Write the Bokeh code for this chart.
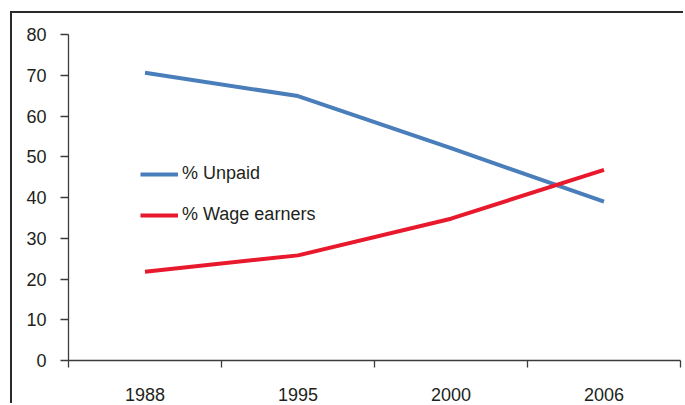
from bokeh.plotting import figure
from bokeh.models import (FactorRange, Range1d, LinearAxis, FixedTicker,
                          Legend, LegendItem)
from bokeh.embed import file_html
from bokeh.resources import INLINE

# ---- data ----
years = ["1988", "1995", "2000", "2006"]
unpaid = [70.6, 64.9, 52.1, 39.0]
wage_earners = [21.8, 25.8, 34.8, 46.8]
y_ticks = [0, 10, 20, 30, 40, 50, 60, 70, 80]
series_labels = ["% Unpaid", "% Wage earners"]

FONT = "Liberation Sans"
TXT = "#231f20"
AXC = "#3c3c3c"

p = figure(width=673, height=392,
           x_range=FactorRange(factors=years, range_padding=0),
           y_range=Range1d(0, 80),
           x_axis_type=None, y_axis_type=None,
           output_backend="svg", toolbar_location=None,
           min_border_left=56, min_border_right=5,
           min_border_top=21, min_border_bottom=45)
p.outline_line_color = None
p.styles = {"border-left": "2px solid #2a2a2a", "border-top": "2px solid #2a2a2a",
            "margin-left": "10px", "margin-top": "11px"}

yaxis = LinearAxis(ticker=FixedTicker(ticks=y_ticks, minor_ticks=[]),
                   major_tick_in=0, major_tick_out=8,
                   minor_tick_in=0, minor_tick_out=0,
                   axis_line_color=AXC, axis_line_width=1.3,
                   major_tick_line_color=AXC, major_tick_line_width=1.3,
                   major_label_text_font=FONT, major_label_text_font_size="18px",
                   major_label_text_color=TXT, major_label_standoff=14)
p.add_layout(yaxis, "left")

centers = [i + 0.5 for i in range(len(years))]
bounds = list(range(len(years) + 1))
xaxis = LinearAxis(ticker=FixedTicker(ticks=centers, minor_ticks=bounds),
                   major_label_overrides={c: y for c, y in zip(centers, years)},
                   major_tick_in=0, major_tick_out=0,
                   minor_tick_in=0, minor_tick_out=7,
                   axis_line_color=AXC, axis_line_width=1.3,
                   minor_tick_line_color=AXC, minor_tick_line_width=1.3,
                   major_label_text_font=FONT, major_label_text_font_size="18px",
                   major_label_text_color=TXT, major_label_standoff=20)
p.add_layout(xaxis, "below")

r1 = p.line(x=years, y=unpaid, line_color="#4a7ebb", line_width=4, line_join="round")
r2 = p.line(x=years, y=wage_earners, line_color="#e8192c", line_width=4, line_join="round")

legend = Legend(items=[LegendItem(label=series_labels[0], renderers=[r1]),
                       LegendItem(label=series_labels[1], renderers=[r2])],
                location=(72, 135), glyph_width=38, glyph_height=20,
                label_height=20, spacing=20, label_standoff=4,
                padding=0, margin=0, border_line_color=None,
                background_fill_alpha=0,
                label_text_font=FONT, label_text_font_size="18px",
                label_text_color=TXT)
p.add_layout(legend)

open("out.html", "w").write(file_html(p, INLINE))
